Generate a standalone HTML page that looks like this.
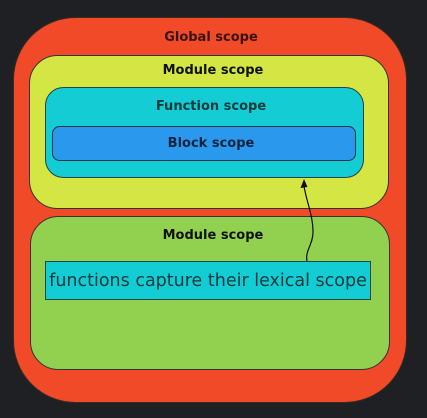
<!DOCTYPE html>
<html><head><style>
html,body{margin:0;padding:0;background:#1f2023;}
svg{display:block;}
text{font-family:"DejaVu Sans","Liberation Sans",sans-serif;}
</style></head><body>
<svg width="427" height="418" viewBox="0 0 427 418" xmlns="http://www.w3.org/2000/svg">
<rect width="427" height="418" fill="#1f2023"/>
<rect x="13.5" y="17.5" width="393" height="385" rx="62" fill="#f04a28" stroke="#3a2a20" stroke-width="1"/>
<rect x="29.5" y="55.5" width="359" height="153" rx="28" fill="#d3e643" stroke="#333" stroke-width="1"/>
<rect x="45.5" y="87.5" width="318" height="90" rx="18" fill="#14cdd4" stroke="#244" stroke-width="1"/>
<rect x="52.5" y="126.5" width="303" height="34" rx="7" fill="#2a98ec" stroke="#234" stroke-width="1"/>
<rect x="30.5" y="216.5" width="359" height="153" rx="28" fill="#92d14f" stroke="#333" stroke-width="1"/>
<rect x="45.5" y="261.5" width="325" height="38" fill="#14cdd4" stroke="#244" stroke-width="1"/>
<path d="M307 261 C305 250,313 245,313 232 C313 215,306 200,304 186" fill="none" stroke="#111" stroke-width="1.2"/>
<polygon points="304,179 300.5,188 307.5,187" fill="#111"/>
<g font-weight="bold" font-size="13" text-anchor="middle" fill="#111">
<text x="211" y="41" fill="#3a1510">Global scope</text>
<text x="213" y="74">Module scope</text>
<text x="211" y="110" fill="#0f3a3c">Function scope</text>
<text x="211" y="147" fill="#0c2440">Block scope</text>
<text x="213" y="239">Module scope</text>
</g>
<text x="208" y="286" font-size="17.5" text-anchor="middle" fill="#0f3a3c">functions capture their lexical scope</text>
</svg>
</body></html>
